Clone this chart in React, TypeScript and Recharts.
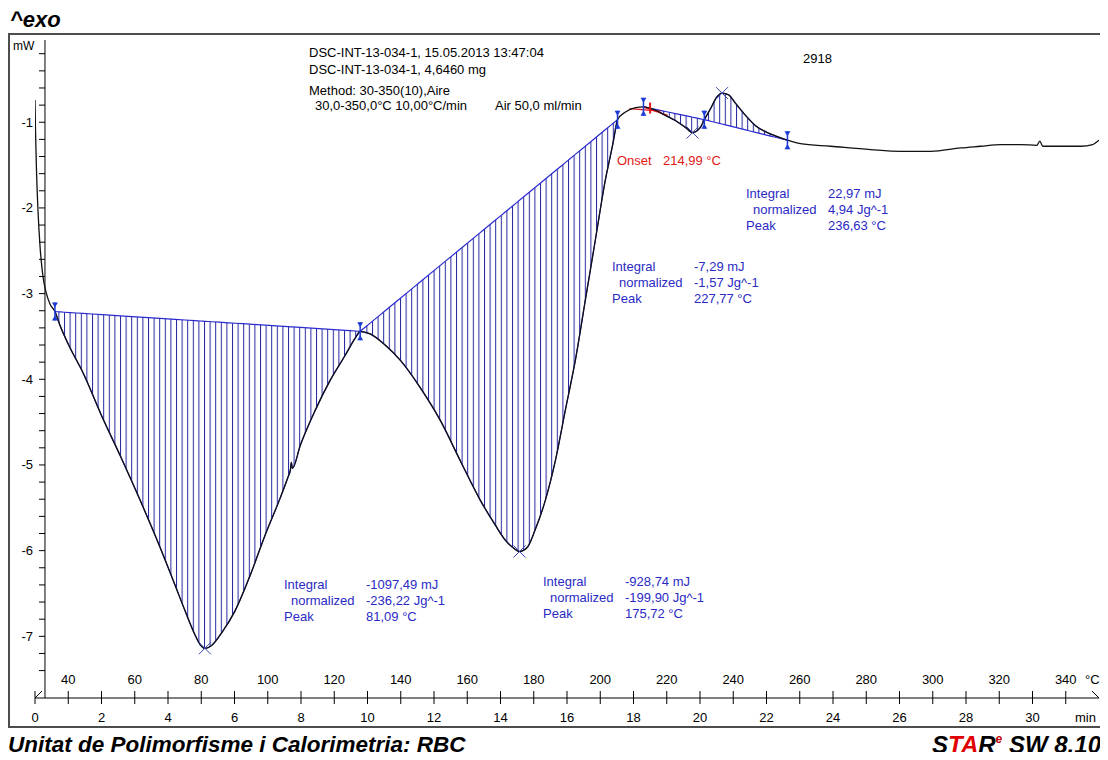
import { ComposedChart, Line, Area, Scatter, XAxis, YAxis, ReferenceLine } from 'recharts';

// DSC heat-flow trace: temperature (°C) against heat flow (mW)
const curveT = [
  30.0, 30.15, 30.45, 30.9, 31.5, 32.4, 33.3, 34.5, 36.0, 37.5, 40.5, 44.4, 50.2, 55.6, 61.6,
  67.6, 72.1, 75.1, 78.2, 79.7, 81.1, 83.3, 86.3, 90.2, 94.7, 99.2, 103.7, 106.1, 106.8, 107.1,
  107.4, 109.8, 114.3, 118.8, 123.3, 126.3, 127.8, 130.8, 135.3, 139.9, 145.9, 151.9, 157.9,
  163.9, 168.4, 171.5, 173.9, 175.7, 178.1, 180.4, 183.5, 186.5, 189.5, 192.5, 195.5, 198.5,
  201.5, 203.7, 205.2, 207.6, 210.6, 213.0, 216.6, 219.6, 222.6, 225.6, 227.8, 230.1, 231.3,
  233.2, 235.0, 236.6, 238.6, 240.7, 243.7, 246.7, 249.7, 252.7, 256.3, 260.2, 269.3, 281.3,
  290.3, 299.4, 308.4, 314.4, 320.4, 326.5, 331.3, 332.2, 333.1, 338.5, 344.5, 348.1, 350.0,
];
const curveMw = [
  -0.74, -1.09, -1.56, -2.03, -2.44, -2.8, -2.98, -3.12, -3.21, -3.37, -3.63, -3.92, -4.44, -4.89, -5.41,
  -5.96, -6.4, -6.7, -6.99, -7.1, -7.14, -7.1, -6.95, -6.7, -6.29, -5.82, -5.39, -5.14, -5.06, -4.97,
  -5.04, -4.77, -4.36, -4.01, -3.72, -3.52, -3.44, -3.47, -3.6, -3.78, -4.1, -4.48, -4.95,
  -5.41, -5.7, -5.88, -5.97, -6.01, -5.96, -5.76, -5.41, -4.95, -4.36, -3.78, -3.08, -2.38,
  -1.68, -1.27, -0.97, -0.88, -0.83, -0.82, -0.86, -0.92, -0.98, -1.06, -1.12, -1.06, -0.97,
  -0.84, -0.71, -0.66, -0.68, -0.78, -0.92, -1.04, -1.11, -1.16, -1.21, -1.25, -1.28, -1.32,
  -1.34, -1.34, -1.3, -1.28, -1.26, -1.26, -1.27, -1.22, -1.28, -1.28, -1.28, -1.26, -1.21,
];

// integration limits of the four evaluated peaks
const limitFromT = [36.0, 127.8, 213.0, 231.3];
const limitToT = [127.8, 205.2, 231.3, 256.3];

// peak positions
const peakT = [81.09, 175.72, 227.77, 236.63];
const peakMw = [-7.14, -6.01, -1.12, -0.66];

const integrals = ['-1097,49 mJ', '-928,74 mJ', '-7,29 mJ', '22,97 mJ'];
const normalized = ['-236,22 Jg^-1', '-199,90 Jg^-1', '-1,57 Jg^-1', '4,94 Jg^-1'];

// onset construction
const onsetT = 214.99;
const onsetBaseT = [208.8, 218.1];
const onsetBaseMw = [-0.84, -0.87];
const onsetTangentT = [212.8, 220.3];
const onsetTangentMw = [-0.82, -0.92];

const xTicks = [30, 40, 50, 60, 70, 80, 90, 100, 110, 120, 130, 140, 150, 160, 170, 180, 190, 200,
  210, 220, 230, 240, 250, 260, 270, 280, 290, 300, 310, 320, 330, 340];
const tempLabels = [40, 60, 80, 100, 120, 140, 160, 180, 200, 220, 240, 260, 280, 300, 320, 340];
const timeLabels = [0, 2, 4, 6, 8, 10, 12, 14, 16, 18, 20, 22, 24, 26, 28, 30];
const yTicks = [-7.4, -7.2, -7, -6.8, -6.6, -6.4, -6.2, -6, -5.8, -5.6, -5.4, -5.2, -5, -4.8, -4.6,
  -4.4, -4.2, -4, -3.8, -3.6, -3.4, -3.2, -3, -2.8, -2.6, -2.4, -2.2, -2, -1.8, -1.6, -1.4, -1.2,
  -1, -0.8, -0.6, -0.4, -0.2];

const START_T = 30;
const HEATING_RATE = 10; // °C/min
const Y_AXIS_T = 33;
const Y_AXIS_X = 37;

const FONT = '"Liberation Sans", Arial, Helvetica, sans-serif';
const BLUE = '#2a2ac4';
const HATCH = '#2626a0';

const curve = curveT.map((T, i) => ({ T, mW: curveMw[i] }));
const mwAt = (T: number) => curveMw[curveT.indexOf(T)];

// each evaluated region: curve points between the limits, with the straight baseline under/over them
const regions = limitFromT.map((t0, i) => {
  const t1 = limitToT[i];
  const m0 = mwAt(t0);
  const m1 = mwAt(t1);
  return curve
    .filter((p) => p.T >= t0 && p.T <= t1)
    .map((p) => ({ T: p.T, band: [m0 + ((m1 - m0) * (p.T - t0)) / (t1 - t0), p.mW] }));
});

const limitPoints = Array.from(new Set([...limitFromT, ...limitToT])).map((T) => ({ T, mW: mwAt(T) }));
const peakPoints = peakT.map((T, i) => ({ T, mW: peakMw[i] }));
const onsetBase = onsetBaseT.map((T, i) => ({ T, mW: onsetBaseMw[i] }));
const onsetTangent = onsetTangentT.map((T, i) => ({ T, mW: onsetTangentMw[i] }));

const fmt = (v: number) => v.toFixed(2).replace('.', ',');

function TempTimeTick(props: any) {
  const { x, y, payload } = props;
  const T = payload.value as number;
  const minutes = (T - START_T) / HEATING_RATE;
  return (
    <g>
      <line x1={x} x2={x} y1={y - 7} y2={y + 6} stroke="#000" strokeWidth={1} />
      {tempLabels.includes(T) && (
        <text x={x} y={y - 14.5} textAnchor="middle" fontSize={13} fill="#000">{T}</text>
      )}
      {timeLabels.includes(minutes) && (
        <text x={x} y={y + 23.5} textAnchor="middle" fontSize={13} fill="#000">{minutes}</text>
      )}
    </g>
  );
}

function MwTick(props: any) {
  const { y, payload } = props;
  const v = payload.value as number;
  return (
    <g>
      <line x1={Y_AXIS_X - 6} x2={Y_AXIS_X} y1={y} y2={y} stroke="#000" strokeWidth={1} />
      {Number.isInteger(v) && (
        <text x={Y_AXIS_X - 12} y={y + 4.5} textAnchor="end" fontSize={13} fill="#000">{v}</text>
      )}
    </g>
  );
}

function LimitMark(props: any) {
  const { cx, cy } = props;
  const c = '#1c3ad6';
  return (
    <g>
      <line x1={cx} x2={cx} y1={cy - 9} y2={cy + 9} stroke={c} strokeWidth={1.5} />
      <path d={`M${cx - 3},${cy - 9} L${cx + 3},${cy - 9} L${cx},${cy - 4} Z`} fill={c} />
      <path d={`M${cx - 3},${cy + 9} L${cx + 3},${cy + 9} L${cx},${cy + 4} Z`} fill={c} />
    </g>
  );
}

function PeakMark(props: any) {
  const { cx, cy } = props;
  return (
    <g stroke="#3a45a8" strokeWidth={1}>
      <line x1={cx - 6} y1={cy - 6} x2={cx + 6} y2={cy + 6} />
      <line x1={cx - 6} y1={cy + 6} x2={cx + 6} y2={cy - 6} />
    </g>
  );
}

function OnsetMark(props: any) {
  const { cx, cy } = props;
  return <line x1={cx} x2={cx} y1={cy - 6} y2={cy + 5} stroke="#e01818" strokeWidth={2} />;
}

function Txt({ x, y, size = 13, color = '#000', bold = false, children }: any) {
  return (
    <div
      style={{
        position: 'absolute',
        left: x - 8,
        top: y - 8 - size / 2,
        fontSize: size,
        lineHeight: `${size}px`,
        color,
        fontWeight: bold ? 'bold' : 'normal',
        fontStyle: bold ? 'italic' : 'normal',
        whiteSpace: 'pre',
      }}
    >
      {children}
    </div>
  );
}

// result blocks: label column x, value column x, first row y
const blockPos = [
  { x: 284, vx: 366, y: 584 },
  { x: 543, vx: 625, y: 581 },
  { x: 612, vx: 694, y: 266 },
  { x: 746, vx: 828, y: 193 },
];

export default function App() {
  return (
    <div style={{ position: 'relative', width: 1095, height: 744, fontFamily: FONT }}>
      <Txt x={10} y={20} size={22} bold>^exo</Txt>

      <div
        style={{
          position: 'absolute', left: 0, top: 25, width: 1095, height: 695,
          border: '2px solid #4d4d4d', boxSizing: 'border-box',
        }}
      />

      <div style={{ position: 'absolute', left: 0, top: 25 }}>
        <ComposedChart width={1095} height={695} margin={{ top: 7, right: 4, bottom: 0, left: 0 }}>
          <defs>
            <pattern id="hatch" width={5.6} height={10} patternUnits="userSpaceOnUse">
              <line x1={0.5} y1={0} x2={0.5} y2={10} stroke={HATCH} strokeWidth={1} />
            </pattern>
          </defs>
          <XAxis
            xAxisId={0}
            type="number"
            dataKey="T"
            domain={[30, 350]}
            ticks={xTicks}
            interval={0}
            tickSize={0}
            tickMargin={0}
            height={30}
            tick={<TempTimeTick />}
            axisLine={{ stroke: '#000', strokeWidth: 1 }}
            tickLine={false}
            allowDataOverflow
          />
          <YAxis
            yAxisId={0}
            type="number"
            domain={[-7.72, -0.04]}
            ticks={yTicks}
            interval={0}
            width={27}
            tickSize={0}
            tickMargin={0}
            tick={<MwTick />}
            axisLine={false}
            tickLine={false}
            allowDataOverflow
          />
          <ReferenceLine x={Y_AXIS_T} stroke="#000" strokeWidth={1} />
          {regions.map((r, i) => (
            <Area
              key={i}
              data={r}
              dataKey="band"
              type="monotone"
              stroke="#2a2ad0"
              strokeWidth={1.2}
              fill="url(#hatch)"
              fillOpacity={1}
              isAnimationActive={false}
            />
          ))}
          <Line data={onsetBase} dataKey="mW" type="linear" stroke="#e01818" strokeWidth={1.3} dot={false} isAnimationActive={false} />
          <Line data={onsetTangent} dataKey="mW" type="linear" stroke="#e01818" strokeWidth={1.3} dot={false} isAnimationActive={false} />
          <Line data={curve} dataKey="mW" type="monotone" stroke="#111" strokeWidth={1.3} dot={false} isAnimationActive={false} />
          <Scatter data={limitPoints} dataKey="mW" shape={<LimitMark />} isAnimationActive={false} />
          <Scatter data={peakPoints} dataKey="mW" shape={<PeakMark />} isAnimationActive={false} />
          <Scatter data={[{ T: onsetT, mW: -0.84 }]} dataKey="mW" shape={<OnsetMark />} isAnimationActive={false} />
        </ComposedChart>
      </div>

      {/* axis break marks */}
      <svg style={{ position: 'absolute', left: 0, top: 0 }} width={1095} height={744}>
        <line x1={27} y1={690} x2={34} y2={683} stroke="#000" strokeWidth={1} />
        <line x1={1084} y1={683} x2={1091} y2={690} stroke="#000" strokeWidth={1} />
      </svg>

      <Txt x={13} y={46} size={12}>mW</Txt>
      <Txt x={1085} y={679}>°C</Txt>
      <Txt x={1075} y={717}>min</Txt>

      <Txt x={309} y={52}>DSC-INT-13-034-1, 15.05.2013 13:47:04</Txt>
      <Txt x={309} y={69}>DSC-INT-13-034-1, 4,6460 mg</Txt>
      <Txt x={309} y={90}>Method: 30-350(10),Aire</Txt>
      <Txt x={315} y={105}>30,0-350,0°C 10,00°C/min</Txt>
      <Txt x={495} y={105}>Air 50,0 ml/min</Txt>
      <Txt x={803} y={58}>2918</Txt>

      <Txt x={617} y={160} color="#e01818">Onset</Txt>
      <Txt x={663} y={160} color="#e01818">{`${fmt(onsetT)} °C`}</Txt>

      {blockPos.map((b, i) => (
        <div key={i}>
          <Txt x={b.x} y={b.y} color={BLUE}>Integral</Txt>
          <Txt x={b.vx} y={b.y} color={BLUE}>{integrals[i]}</Txt>
          <Txt x={b.x + 7} y={b.y + 16} color={BLUE}>normalized</Txt>
          <Txt x={b.vx} y={b.y + 16} color={BLUE}>{normalized[i]}</Txt>
          <Txt x={b.x} y={b.y + 32} color={BLUE}>Peak</Txt>
          <Txt x={b.vx} y={b.y + 32} color={BLUE}>{`${fmt(peakT[i])} °C`}</Txt>
        </div>
      ))}

      <Txt x={8} y={745} size={22.5} bold>Unitat de Polimorfisme i Calorimetria: RBC</Txt>
      <div
        style={{
          position: 'absolute', left: 924, top: 745 - 8 - 12, fontSize: 24, lineHeight: '24px',
          fontWeight: 'bold', fontStyle: 'italic', whiteSpace: 'pre',
        }}
      >
        S<span style={{ color: '#e00000' }}>TA</span>R
        <span style={{ fontSize: 12, color: '#c00000', verticalAlign: 'top', lineHeight: '12px' }}>e</span>
        {' SW 8.10'}
      </div>
    </div>
  );
}
